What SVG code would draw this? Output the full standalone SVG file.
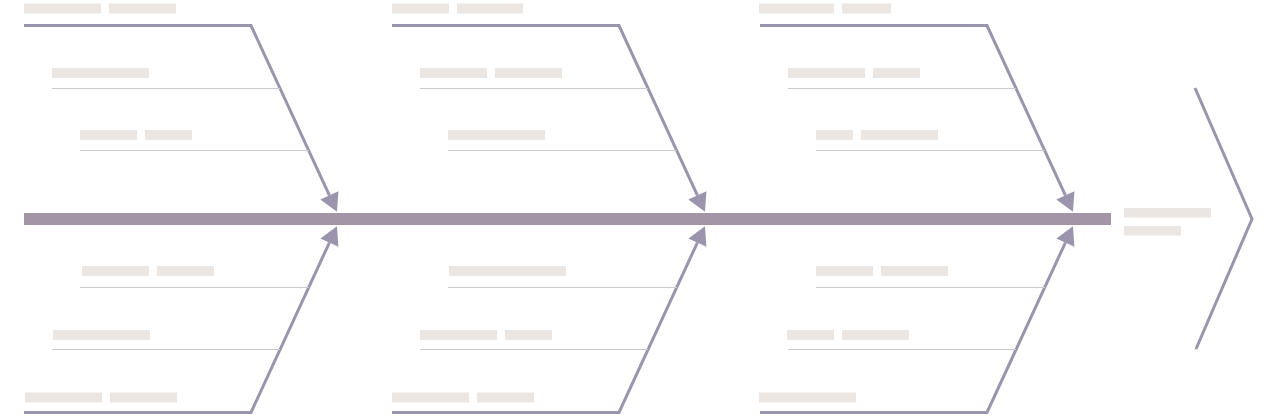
<svg xmlns="http://www.w3.org/2000/svg" width="1268" height="418" viewBox="0 0 1268 418">
<style>
.bone{fill:none;stroke:#9a94ad;stroke-width:3;marker-end:url(#ah)}
.sub{stroke:#c9c9cf;stroke-width:1.2}
.bar{fill:#ebe6e2}
.spine{fill:#a394a6}
</style>
<defs>
<marker id="ah" markerUnits="userSpaceOnUse" markerWidth="18" markerHeight="20" refX="0" refY="10" orient="auto" overflow="visible">
<path d="M0,0 L18,10 L0,20 z" fill="#9a94ad"/>
</marker>
</defs>
<rect width="1268" height="418" fill="#ffffff"/>
<rect id="spine" class="spine" x="24" y="213" width="1087" height="12"/>
<g id="connectors">
<path class="bone" d="M24,25.5 H251 L329.4,195.4"/>
<path class="bone" d="M24,412.5 H251 L329.4,242.6"/>
<path class="bone" d="M392,25.5 H619 L697.4,195.4"/>
<path class="bone" d="M392,412.5 H619 L697.4,242.6"/>
<path class="bone" d="M760,25.5 H987 L1065.4,195.4"/>
<path class="bone" d="M760,412.5 H987 L1065.4,242.6"/>
</g>
<g id="cause1-top">
<rect class="bar" x="24" y="3.5" width="77" height="10"/><rect class="bar" x="109" y="3.5" width="67" height="10"/>
<rect class="bar" x="52" y="68" width="97" height="10"/>
<line class="sub" x1="52" y1="88.5" x2="280" y2="88.5"/>
<rect class="bar" x="80" y="130" width="57" height="10"/><rect class="bar" x="145" y="130" width="47" height="10"/>
<line class="sub" x1="80" y1="150.5" x2="309" y2="150.5"/>
</g>
<g id="cause1-bottom">
<rect class="bar" x="82" y="266" width="67" height="10"/><rect class="bar" x="157" y="266" width="57" height="10"/>
<line class="sub" x1="80" y1="287.5" x2="309" y2="287.5"/>
<rect class="bar" x="53" y="330" width="97" height="10"/>
<line class="sub" x1="52" y1="349.5" x2="280" y2="349.5"/>
<rect class="bar" x="25" y="392.5" width="77" height="10"/><rect class="bar" x="110" y="392.5" width="67" height="10"/>
</g>
<g id="cause2-top">
<rect class="bar" x="392" y="3.5" width="57" height="10"/><rect class="bar" x="457" y="3.5" width="66" height="10"/>
<rect class="bar" x="420" y="68" width="67" height="10"/><rect class="bar" x="495" y="68" width="67" height="10"/>
<line class="sub" x1="420" y1="88.5" x2="648" y2="88.5"/>
<rect class="bar" x="448" y="130" width="97" height="10"/>
<line class="sub" x1="448" y1="150.5" x2="677" y2="150.5"/>
</g>
<g id="cause2-bottom">
<rect class="bar" x="449" y="266" width="117" height="10"/>
<line class="sub" x1="448" y1="287.5" x2="677" y2="287.5"/>
<rect class="bar" x="420" y="330" width="77" height="10"/><rect class="bar" x="505" y="330" width="47" height="10"/>
<line class="sub" x1="420" y1="349.5" x2="648" y2="349.5"/>
<rect class="bar" x="392" y="392.5" width="77" height="10"/><rect class="bar" x="477" y="392.5" width="57" height="10"/>
</g>
<g id="cause3-top">
<rect class="bar" x="759" y="3.5" width="75" height="10"/><rect class="bar" x="842" y="3.5" width="49" height="10"/>
<rect class="bar" x="788" y="68" width="77" height="10"/><rect class="bar" x="873" y="68" width="47" height="10"/>
<line class="sub" x1="788" y1="88.5" x2="1016" y2="88.5"/>
<rect class="bar" x="816" y="130" width="37" height="10"/><rect class="bar" x="861" y="130" width="77" height="10"/>
<line class="sub" x1="816" y1="150.5" x2="1045" y2="150.5"/>
</g>
<g id="cause3-bottom">
<rect class="bar" x="816" y="266" width="57" height="10"/><rect class="bar" x="881" y="266" width="67" height="10"/>
<line class="sub" x1="816" y1="287.5" x2="1045" y2="287.5"/>
<rect class="bar" x="787" y="330" width="47" height="10"/><rect class="bar" x="842" y="330" width="67" height="10"/>
<line class="sub" x1="788" y1="349.5" x2="1016" y2="349.5"/>
<rect class="bar" x="759" y="392.5" width="97" height="10"/>
</g>
<g id="effect">
<rect class="bar" x="1124" y="208" width="87" height="9.5"/>
<rect class="bar" x="1124" y="226" width="57" height="9.5"/>
<path d="M1195,88 L1252,219 L1196,349" fill="none" stroke="#9a94ad" stroke-width="3"/>
</g>
</svg>
